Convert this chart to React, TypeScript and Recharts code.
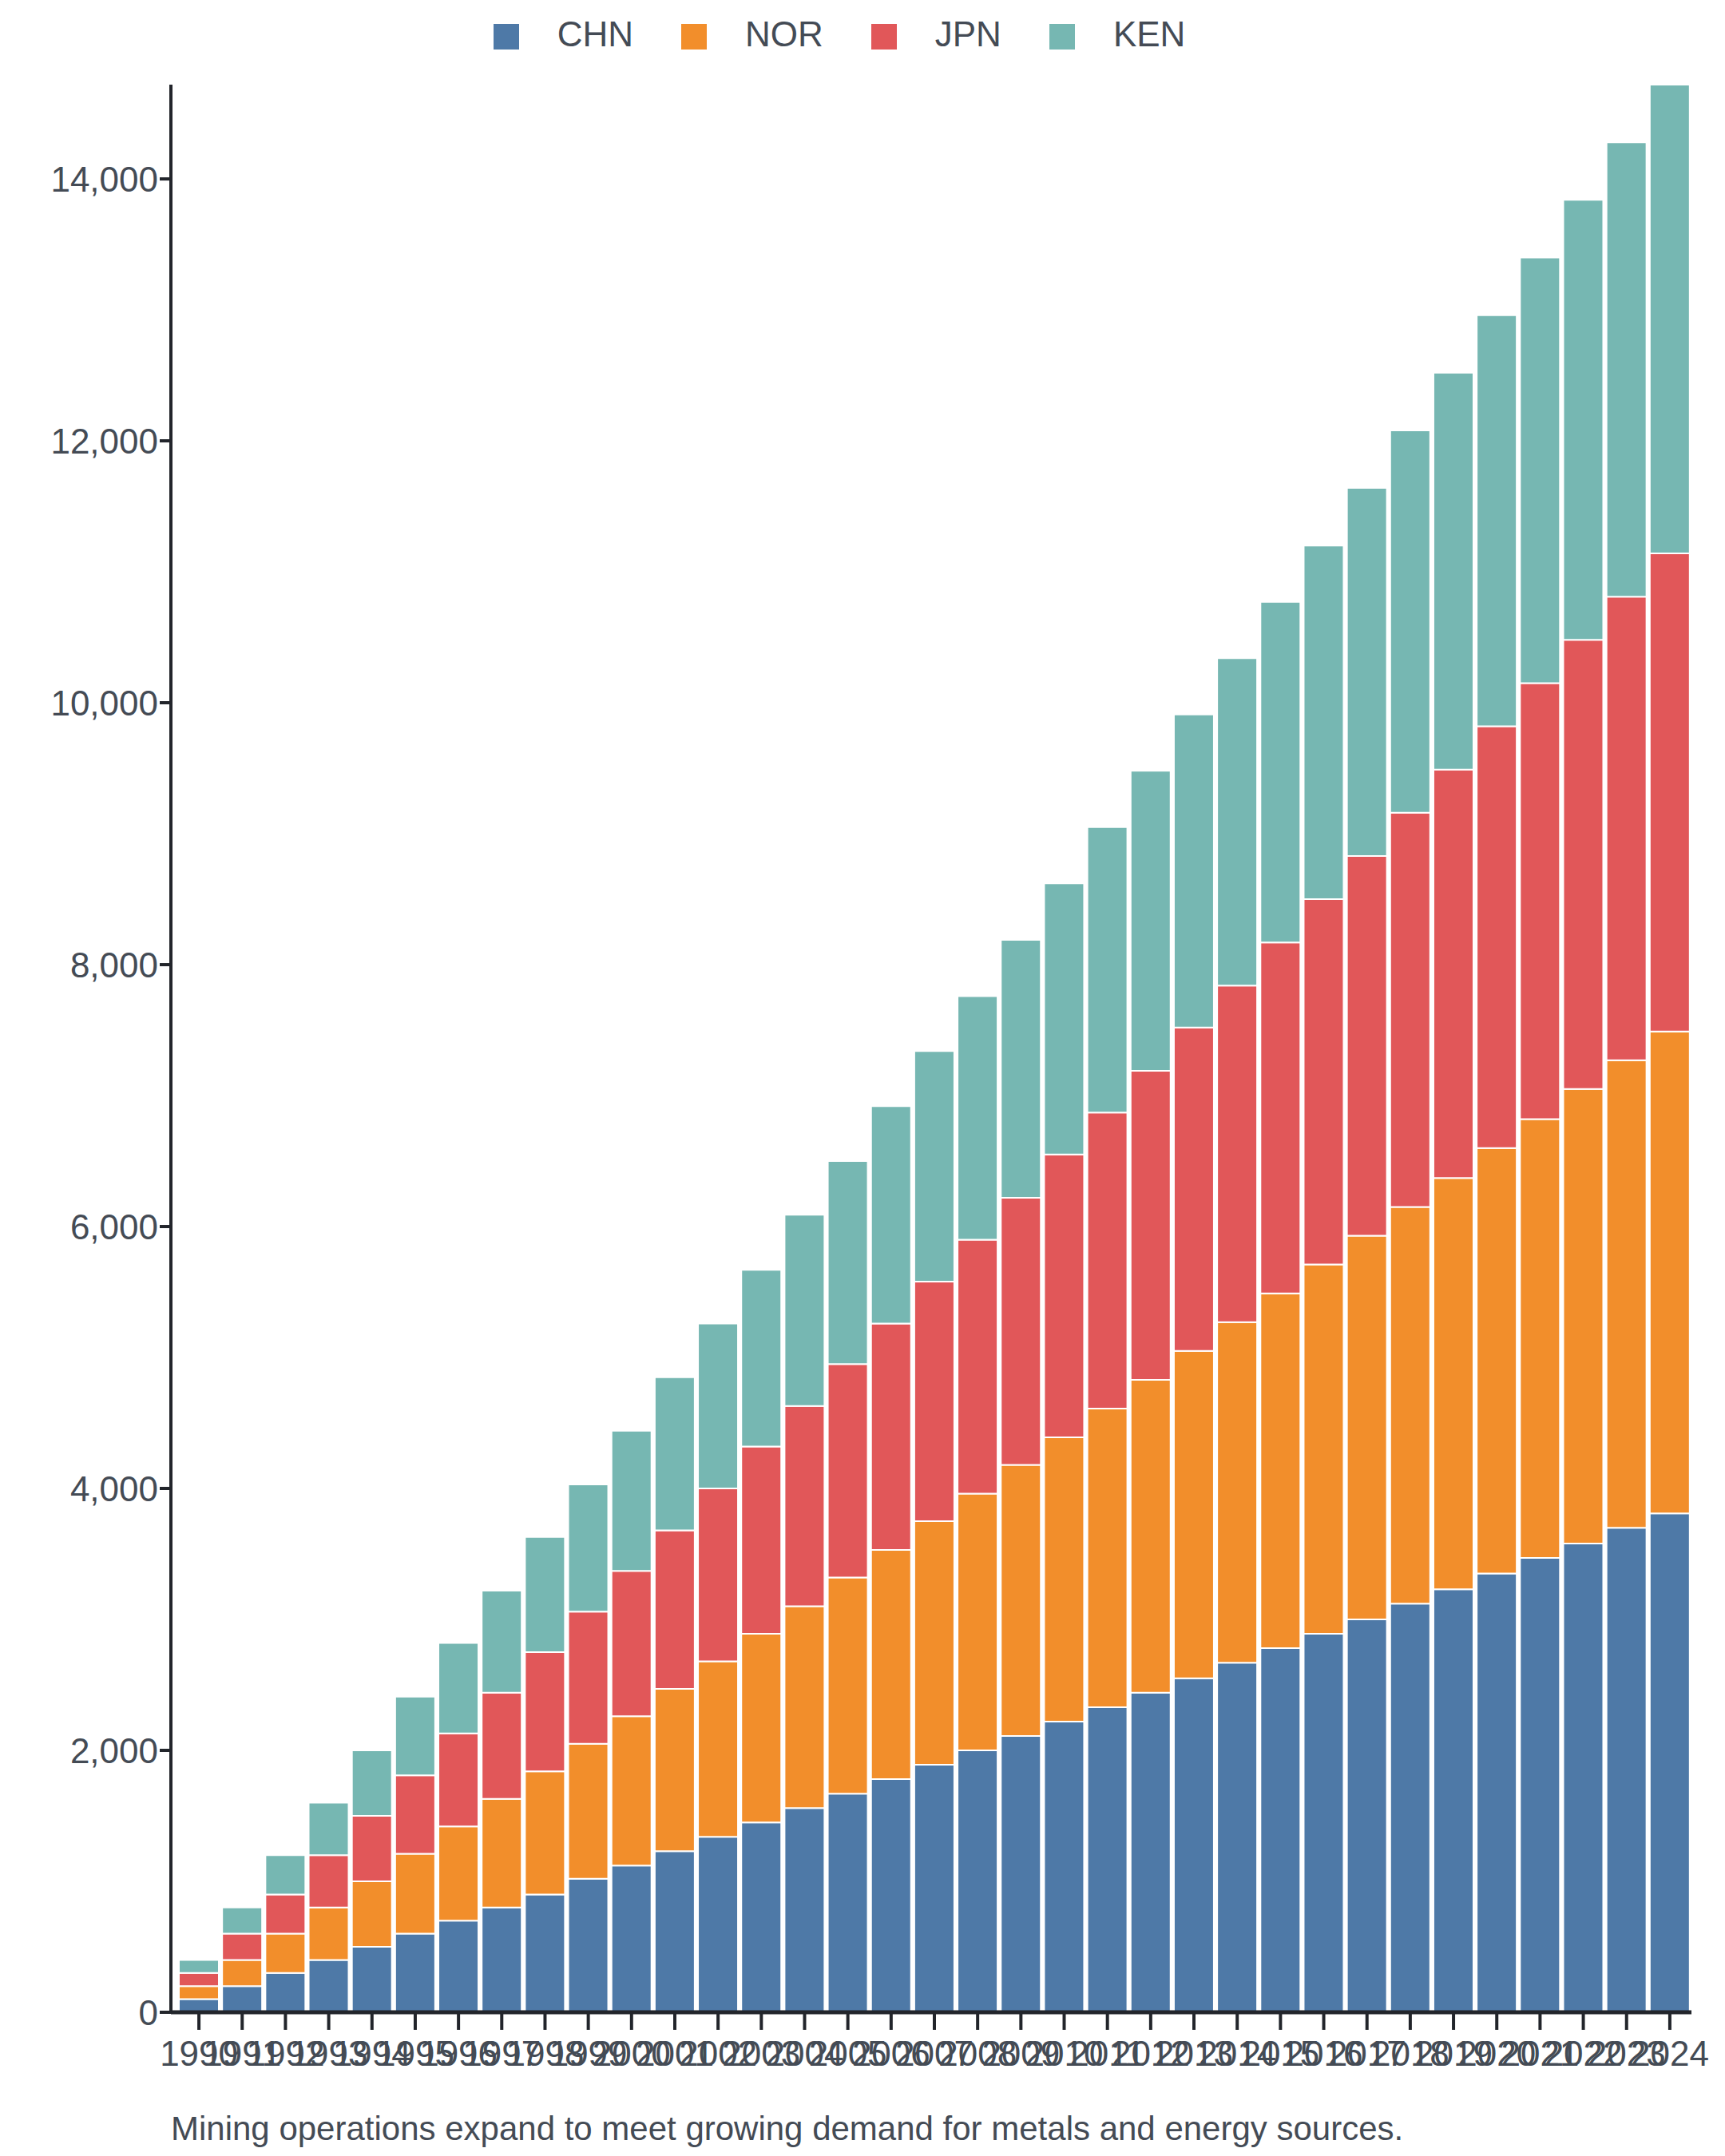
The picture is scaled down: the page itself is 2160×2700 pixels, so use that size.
import React from 'react';
import { BarChart, Bar, XAxis, YAxis, Legend } from 'recharts';

const years = ['1990','1991','1992','1993','1994','1995','1996','1997','1998','1999','2000','2001','2002','2003','2004','2005','2006','2007','2008','2009','2010','2011','2012','2013','2014','2015','2016','2017','2018','2019','2020','2021','2022','2023','2024'];
const chn = [100,200,300,400,500,600,700,800,900,1020,1120,1230,1340,1450,1560,1670,1780,1890,2000,2110,2220,2330,2440,2550,2670,2780,2890,3000,3120,3230,3350,3470,3580,3700,3810];
const nor = [100,200,300,400,500,610,720,830,940,1030,1140,1240,1340,1440,1540,1650,1750,1860,1960,2070,2170,2280,2390,2500,2600,2710,2820,2930,3030,3140,3250,3350,3470,3570,3680];
const jpn = [100,200,300,400,500,600,710,810,910,1010,1110,1210,1320,1430,1530,1630,1730,1830,1940,2040,2160,2260,2360,2470,2570,2680,2790,2900,3010,3120,3220,3330,3430,3540,3650];
const ken = [100,200,300,400,500,600,690,780,880,970,1070,1170,1260,1350,1460,1550,1660,1760,1860,1970,2070,2180,2290,2390,2500,2600,2700,2810,2920,3030,3140,3250,3360,3470,3580];
const yTicks = [0, 2000, 4000, 6000, 8000, 10000, 12000, 14000];

const data = years.map((y, i) => ({ year: y, CHN: chn[i], NOR: nor[i], JPN: jpn[i], KEN: ken[i] }));

const series = [
  { key: 'CHN', color: '#4e79a7' },
  { key: 'NOR', color: '#f28e2b' },
  { key: 'JPN', color: '#e15759' },
  { key: 'KEN', color: '#76b7b2' },
];
const order = series.map(s => s.key);

const font = 'Liberation Sans, Arial, sans-serif';
const textColor = '#444b55';

export default function App() {
  return (
    <div style={{ position: 'relative', width: 2144, height: 2692, fontFamily: font }}>
      <BarChart
        width={2144}
        height={2692}
        data={data}
        margin={{ top: 48, right: 34, bottom: 80, left: 36 }}
        barCategoryGap={2}
      >
        <Legend
          verticalAlign="top"
          align="center"
          iconType="square"
          iconSize={32}
          itemSorter={(item: any) => order.indexOf(item.value)}
          wrapperStyle={{ top: 10, fontSize: 44, fontFamily: font }}
          formatter={(v: string) => <span style={{ color: textColor, margin: '0 50px 0 44px' }}>{v}</span>}
        />
        <XAxis
          dataKey="year"
          interval={0}
          height={100}
          tickSize={22}
          tickMargin={14}
          axisLine={{ stroke: '#22252b', strokeWidth: 5 }}
          tickLine={{ stroke: '#22252b', strokeWidth: 4 }}
          tick={{ fontSize: 44, fill: textColor, fontFamily: font }}
          padding={{ left: 8, right: 0 }}
        />
        <YAxis
          width={170}
          domain={[0, 'dataMax']}
          ticks={yTicks}
          tickFormatter={(v: number) => v.toLocaleString('en-US')}
          axisLine={{ stroke: '#22252b', strokeWidth: 4 }}
          tickLine={{ stroke: '#22252b', strokeWidth: 4 }}
          tickSize={14}
          tick={{ fontSize: 44, fill: textColor, fontFamily: font }}
        />
        {series.map(s => (
          <Bar key={s.key} dataKey={s.key} stackId="a" fill={s.color} stroke="#ffffff" strokeWidth={2} isAnimationActive={false} />
        ))}
      </BarChart>
      <div style={{ position: 'absolute', left: 206, top: 2634, fontSize: 42, color: textColor, whiteSpace: 'nowrap' }}>
        Mining operations expand to meet growing demand for metals and energy sources.
      </div>
    </div>
  );
}
